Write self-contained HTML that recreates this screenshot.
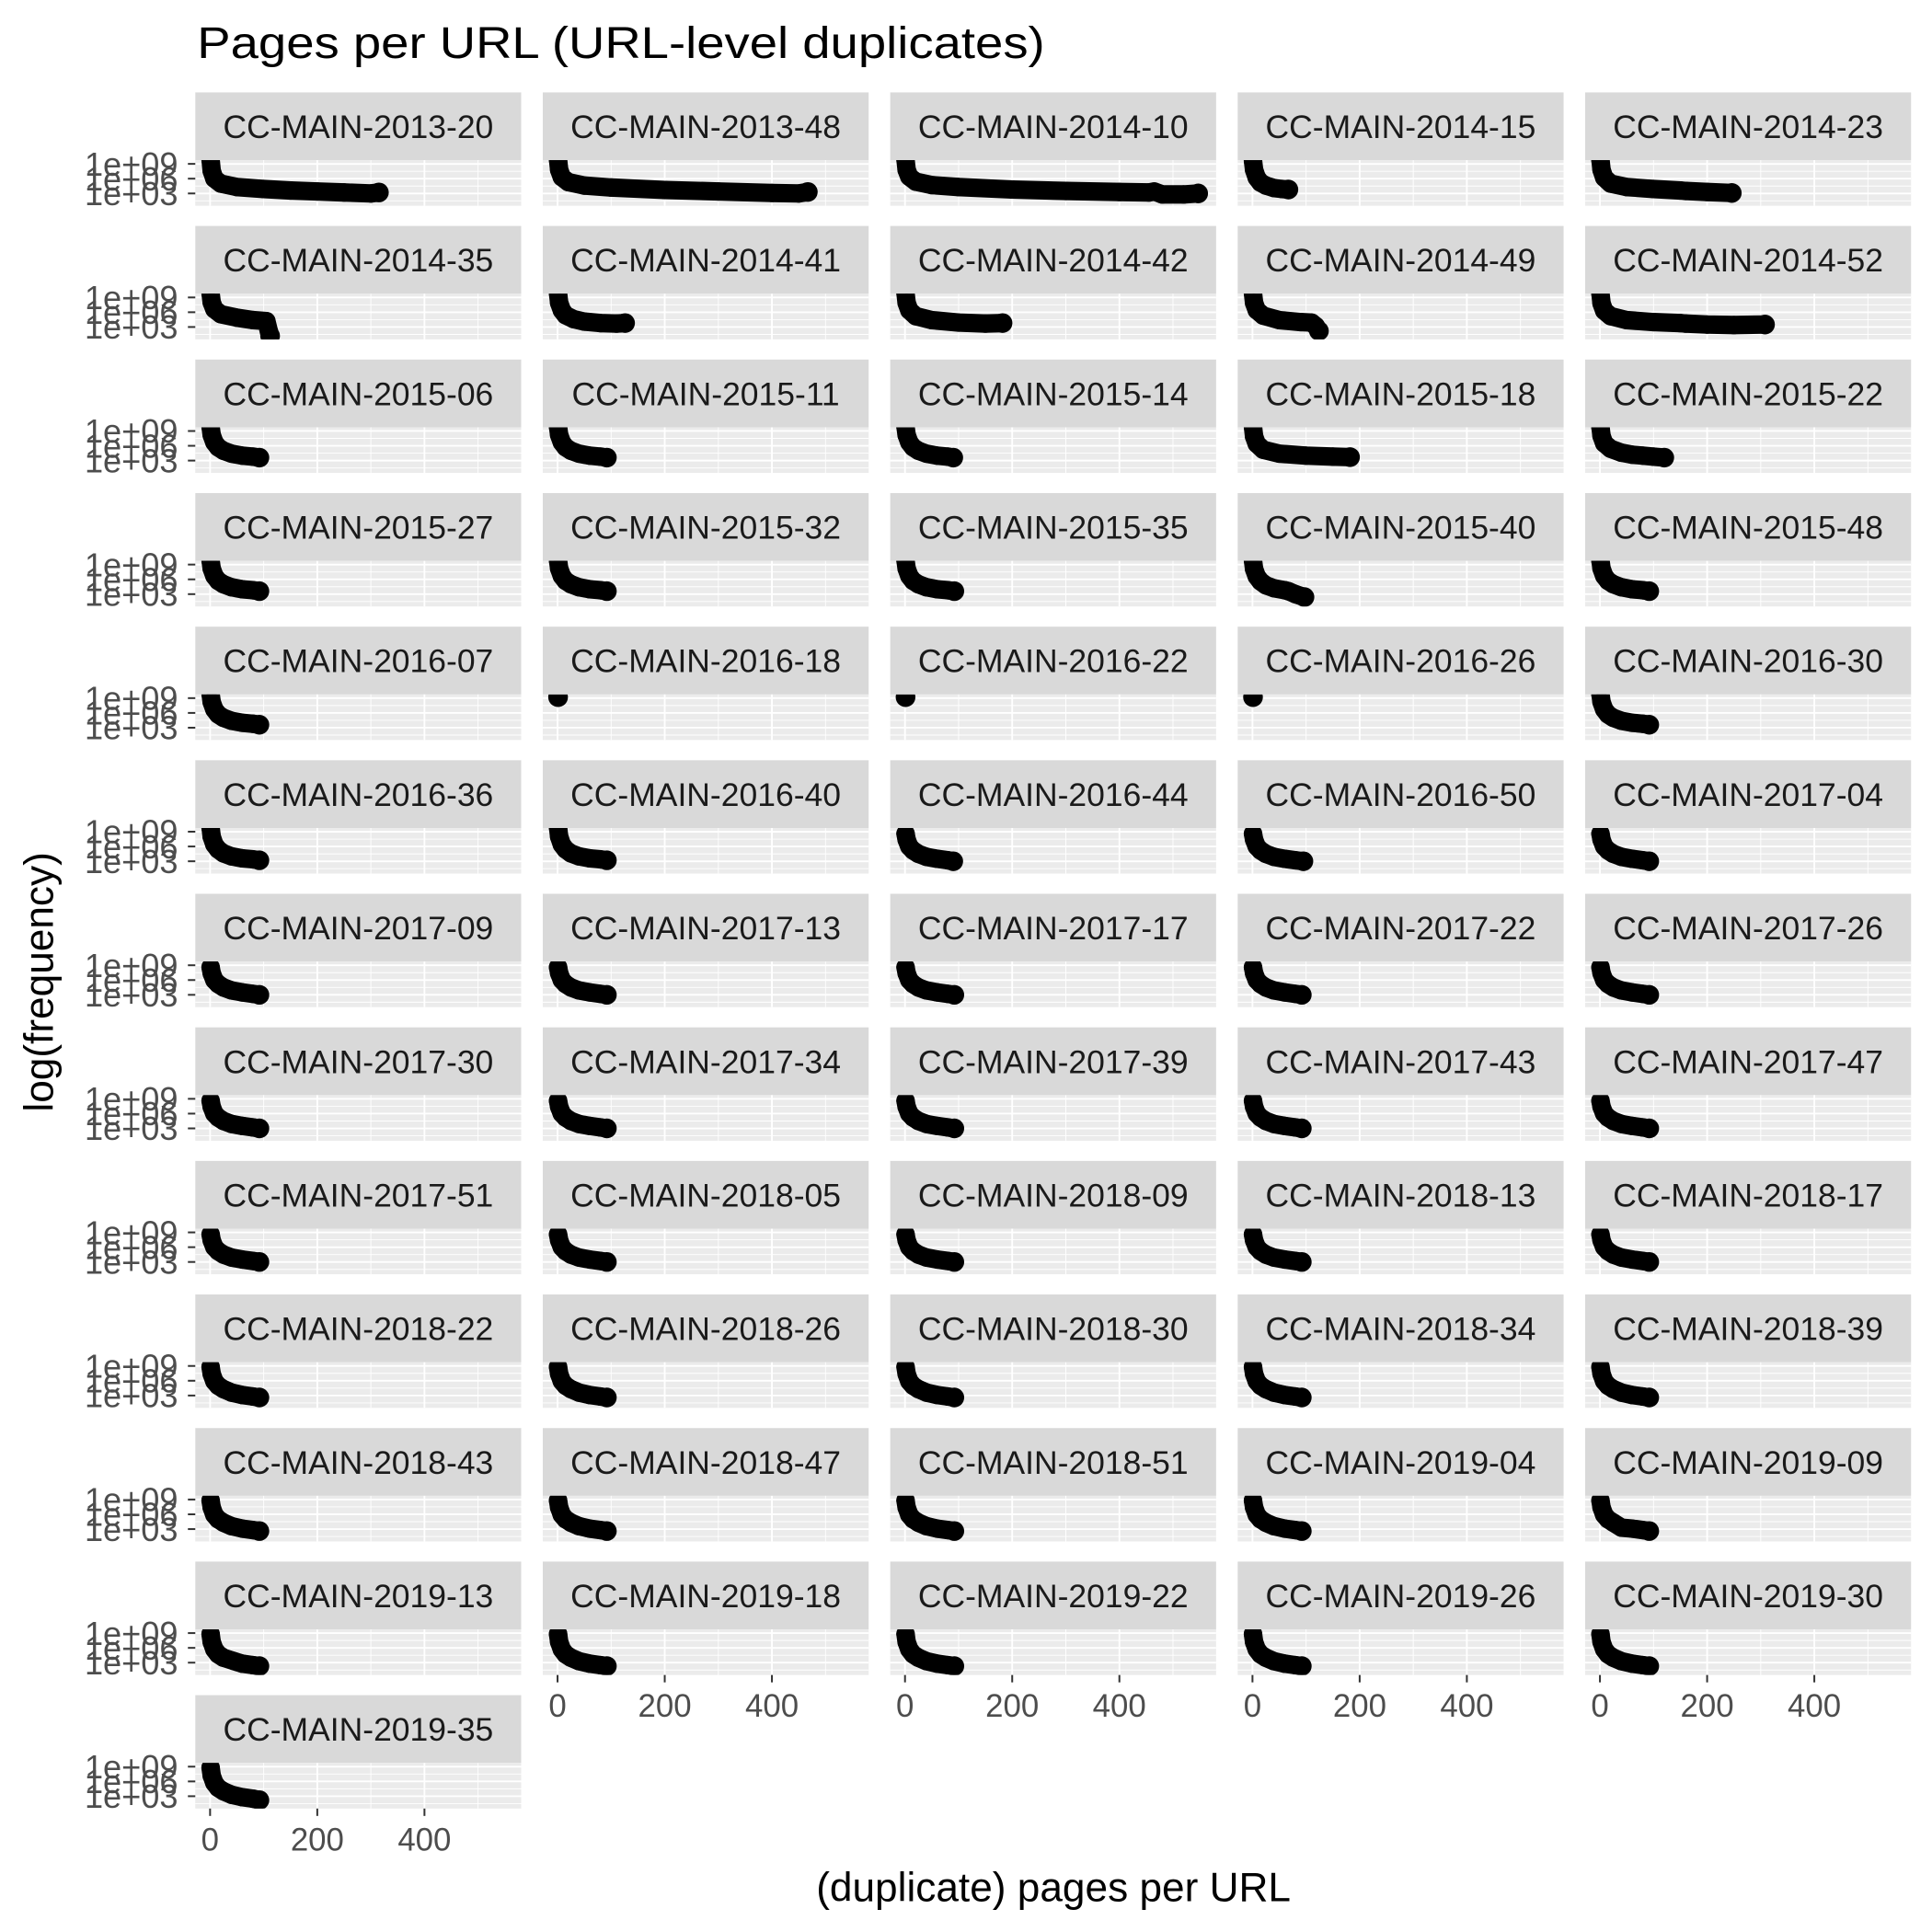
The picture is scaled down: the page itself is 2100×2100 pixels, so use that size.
<!DOCTYPE html>
<html><head><meta charset="utf-8"><style>
html,body{margin:0;padding:0;background:#fff;}
svg{display:block;}
text{font-family:"Liberation Sans",sans-serif;}
</style></head>
<body>
<svg id="chart" xmlns="http://www.w3.org/2000/svg" width="2100" height="2100" viewBox="0 0 1568 1568">
<rect x="0" y="0" width="1568" height="1568" fill="#fff"/>
<text x="160" y="47" font-size="36" fill="#000" textLength="688" lengthAdjust="spacingAndGlyphs">Pages per URL (URL-level duplicates)</text>
<text transform="translate(43,797) rotate(-90)" text-anchor="middle" font-size="33" fill="#000">log(frequency)</text>
<text x="855" y="1543" text-anchor="middle" font-size="33" fill="#000">(duplicate) pages per URL</text>
<g id="panels"></g>
</svg>
<script>
const panelNames = ["CC-MAIN-2013-20","CC-MAIN-2013-48","CC-MAIN-2014-10","CC-MAIN-2014-15","CC-MAIN-2014-23",
"CC-MAIN-2014-35","CC-MAIN-2014-41","CC-MAIN-2014-42","CC-MAIN-2014-49","CC-MAIN-2014-52",
"CC-MAIN-2015-06","CC-MAIN-2015-11","CC-MAIN-2015-14","CC-MAIN-2015-18","CC-MAIN-2015-22",
"CC-MAIN-2015-27","CC-MAIN-2015-32","CC-MAIN-2015-35","CC-MAIN-2015-40","CC-MAIN-2015-48",
"CC-MAIN-2016-07","CC-MAIN-2016-18","CC-MAIN-2016-22","CC-MAIN-2016-26","CC-MAIN-2016-30",
"CC-MAIN-2016-36","CC-MAIN-2016-40","CC-MAIN-2016-44","CC-MAIN-2016-50","CC-MAIN-2017-04",
"CC-MAIN-2017-09","CC-MAIN-2017-13","CC-MAIN-2017-17","CC-MAIN-2017-22","CC-MAIN-2017-26",
"CC-MAIN-2017-30","CC-MAIN-2017-34","CC-MAIN-2017-39","CC-MAIN-2017-43","CC-MAIN-2017-47",
"CC-MAIN-2017-51","CC-MAIN-2018-05","CC-MAIN-2018-09","CC-MAIN-2018-13","CC-MAIN-2018-17",
"CC-MAIN-2018-22","CC-MAIN-2018-26","CC-MAIN-2018-30","CC-MAIN-2018-34","CC-MAIN-2018-39",
"CC-MAIN-2018-43","CC-MAIN-2018-47","CC-MAIN-2018-51","CC-MAIN-2019-04","CC-MAIN-2019-09",
"CC-MAIN-2019-13","CC-MAIN-2019-18","CC-MAIN-2019-22","CC-MAIN-2019-26","CC-MAIN-2019-30",
"CC-MAIN-2019-35"];
const xTicks = [0,200,400];
const xTickLabels = ["0","200","400"];
const yTicks = [3,6,9];
const yTickLabels = ["1e+03","1e+06","1e+09"];
const pointsX = [
[1,3,8,20,50,100,150,200,250,300,315],
[1,3,8,20,50,100,200,300,400,450,467],
[1,3,8,20,50,100,200,300,400,455,465,480,520,547],
[1,3,8,15,25,40,55,67],
[1,3,8,20,50,100,150,160,200,246],
[1,3,8,20,50,80,105,110,112],
[1,3,8,15,30,50,80,110,126],
[1,3,8,20,50,100,150,182],
[1,3,8,20,50,90,110,118,124],
[1,3,8,20,50,100,150,160,200,250,308],
[1,3,8,15,25,40,60,80,92],
[1,3,8,15,25,40,60,80,92],
[1,3,8,15,25,40,60,80,90],
[1,3,8,20,50,100,150,182],
[1,3,8,20,40,60,80,100,120],
[1,3,8,15,25,40,60,80,92],
[1,3,8,15,25,40,60,80,92],
[1,3,8,15,25,40,60,80,92],
[1,3,8,15,25,40,60,67,80,97],
[1,3,8,15,25,40,60,80,92],
[1,3,8,15,25,40,60,80,92],
[1],[1],[1],
[1,3,8,15,25,40,60,80,92],
[1,3,8,15,25,40,60,80,92],
[1,3,8,15,25,40,60,80,92],
[1,3,8,15,25,40,60,80,90],
[1,3,8,15,25,40,60,80,95],
[1,3,8,15,25,40,60,80,92],
[1,3,8,15,25,40,60,80,92],
[1,3,8,15,25,40,60,80,92],
[1,3,8,15,25,40,60,80,92],
[1,3,8,15,25,40,60,80,92],
[1,3,8,15,25,40,60,80,92],
[1,3,8,15,25,40,60,80,92],
[1,3,8,15,25,40,60,80,92],
[1,3,8,15,25,40,60,80,92],
[1,3,8,15,25,40,60,80,92],
[1,3,8,15,25,40,60,80,92],
[1,3,8,15,25,40,60,80,92],
[1,3,8,15,25,40,60,80,92],
[1,3,8,15,25,40,60,80,92],
[1,3,8,15,25,40,60,80,92],
[1,3,8,15,25,40,60,80,92],
[1,3,8,15,25,40,60,80,92],
[1,3,8,15,25,40,60,80,92],
[1,3,8,15,25,40,60,80,92],
[1,3,8,15,25,40,60,80,92],
[1,3,8,15,25,40,60,80,92],
[1,3,8,15,25,40,60,80,92],
[1,3,8,15,25,40,60,80,92],
[1,3,8,15,25,40,60,80,92],
[1,3,8,15,25,40,60,80,92],
[1,3,8,15,25,40,60,80,92],
[1,3,8,15,25,45,60,80,92],
[1,3,8,15,25,40,60,80,92],
[1,3,8,15,25,40,60,80,92],
[1,3,8,15,25,40,60,80,92],
[1,3,8,15,25,40,60,80,92],
[1,3,8,15,25,40,60,80,92],
[1,3,8,15,25,40,60,80,92]
];
const pointsLogY = [
[9.8,7.6,6.0,5.0,4.3,3.9,3.6,3.4,3.2,3.0,3.2],
[9.8,7.8,6.3,5.3,4.6,4.2,3.7,3.4,3.1,3.0,3.3],
[9.8,7.8,6.4,5.4,4.7,4.3,3.8,3.5,3.3,3.2,3.4,2.8,2.8,3.0],
[9.6,7.8,6.2,5.2,4.6,4.1,3.9,3.8],
[9.8,7.8,6.2,5.0,4.3,3.9,3.6,3.5,3.3,3.1],
[9.8,8.0,6.6,5.6,4.9,4.4,4.2,2.0,1.2],
[9.8,7.9,6.4,5.4,4.6,4.1,3.8,3.7,3.8],
[9.8,7.9,6.4,5.2,4.4,3.9,3.7,3.8],
[9.8,7.9,6.4,5.3,4.4,4.0,3.9,3.2,2.2],
[9.8,7.8,6.3,5.2,4.4,4.0,3.8,3.7,3.5,3.4,3.5],
[9.8,8.2,6.7,5.7,5.0,4.4,4.0,3.8,3.6],
[9.8,8.2,6.7,5.7,5.0,4.4,4.0,3.8,3.6],
[9.8,8.2,6.7,5.7,5.0,4.4,4.0,3.8,3.6],
[9.8,7.9,6.4,5.2,4.4,4.0,3.8,3.7],
[9.8,8.0,6.5,5.4,4.6,4.2,4.0,3.8,3.6],
[9.8,8.2,6.7,5.7,5.0,4.4,4.0,3.8,3.6],
[9.8,8.2,6.7,5.7,5.0,4.4,4.0,3.8,3.6],
[9.8,8.2,6.7,5.7,5.0,4.4,4.0,3.8,3.6],
[9.8,8.1,6.6,5.6,4.8,4.2,3.8,3.6,3.0,2.4],
[9.8,8.2,6.7,5.7,5.0,4.4,4.0,3.8,3.6],
[9.8,8.2,6.7,5.7,5.0,4.4,4.0,3.8,3.6],
[9.2],[9.2],[9.2],
[9.8,8.2,6.7,5.7,5.0,4.4,4.0,3.8,3.6],
[9.8,8.0,6.4,5.4,4.6,4.0,3.6,3.4,3.2],
[9.8,8.0,6.4,5.4,4.6,4.0,3.6,3.4,3.2],
[8.6,7.4,6.0,5.2,4.5,3.9,3.5,3.2,3.0],
[8.6,7.4,6.0,5.2,4.5,3.9,3.5,3.2,3.0],
[8.6,7.4,6.0,5.2,4.5,3.9,3.5,3.2,3.0],
[8.6,7.4,6.0,5.2,4.5,3.9,3.5,3.2,3.0],
[8.6,7.4,6.0,5.2,4.5,3.9,3.5,3.2,3.0],
[8.6,7.4,6.0,5.2,4.5,3.9,3.5,3.2,3.0],
[8.6,7.4,6.0,5.2,4.5,3.9,3.5,3.2,3.0],
[8.6,7.4,6.0,5.2,4.5,3.9,3.5,3.2,3.0],
[8.6,7.4,6.0,5.2,4.5,3.9,3.5,3.2,3.0],
[8.6,7.4,6.0,5.2,4.5,3.9,3.5,3.2,3.0],
[8.6,7.4,6.0,5.2,4.5,3.9,3.5,3.2,3.0],
[8.6,7.4,6.0,5.2,4.5,3.9,3.5,3.2,3.0],
[8.6,7.4,6.0,5.2,4.5,3.9,3.5,3.2,3.0],
[8.6,7.4,6.0,5.2,4.5,3.9,3.5,3.2,3.0],
[8.6,7.4,6.0,5.2,4.5,3.9,3.5,3.2,3.0],
[8.6,7.4,6.0,5.2,4.5,3.9,3.5,3.2,3.0],
[8.6,7.4,6.0,5.2,4.5,3.9,3.5,3.2,3.0],
[8.6,7.4,6.0,5.2,4.5,3.9,3.5,3.2,3.0],
[8.8,7.4,5.9,5.0,4.3,3.6,3.1,2.8,2.6],
[8.8,7.4,5.9,5.0,4.3,3.6,3.1,2.8,2.6],
[8.8,7.4,5.9,5.0,4.3,3.6,3.1,2.8,2.6],
[8.8,7.4,5.9,5.0,4.3,3.6,3.1,2.8,2.6],
[8.8,7.4,5.9,5.0,4.3,3.6,3.1,2.8,2.6],
[8.8,7.4,5.9,5.0,4.3,3.6,3.1,2.8,2.6],
[8.8,7.4,5.9,5.0,4.3,3.6,3.1,2.8,2.6],
[8.8,7.4,5.9,5.0,4.3,3.6,3.1,2.8,2.6],
[8.8,7.4,5.9,5.0,4.3,3.6,3.1,2.8,2.6],
[8.8,7.4,5.9,5.0,4.3,3.3,3.1,2.8,2.6],
[8.8,7.2,5.7,4.7,4.0,3.3,2.8,2.5,2.3],
[8.8,7.2,5.7,4.7,4.0,3.3,2.8,2.5,2.3],
[8.8,7.2,5.7,4.7,4.0,3.3,2.8,2.5,2.3],
[8.8,7.2,5.7,4.7,4.0,3.3,2.8,2.5,2.3],
[8.8,7.2,5.7,4.7,4.0,3.3,2.8,2.5,2.3],
[8.8,7.2,5.7,4.7,4.0,3.3,2.8,2.5,2.2]
];

const NS = "http://www.w3.org/2000/svg";
const root = document.getElementById("panels");
const COLS = 5, colPitch = 282, rowPitch = 108.4;
const left0 = 158.5, strip0 = 75, stripH = 55, panW = 264.5, panH = 37;
const xMin = -27.6, xMax = 580.5, yMin = 0.5, yMax = 9.75;
function mk(tag, attrs, parent) {
  const e = document.createElementNS(NS, tag);
  for (const k in attrs) e.setAttribute(k, attrs[k]);
  parent.appendChild(e);
  return e;
}
const defs = mk("defs", {}, root);
panelNames.forEach((name, i) => {
  const col = i % COLS, row = Math.floor(i / COLS);
  const L = left0 + col * colPitch;
  const sT = strip0 + row * rowPitch;
  const T = sT + stripH;
  const sx = v => L + (v - xMin) / (xMax - xMin) * panW;
  const sy = v => T + (yMax - v) / (yMax - yMin) * panH;
  const g = mk("g", {}, root);
  
  
  const strip = mk("rect", {x: L, y: sT, width: panW, height: stripH, fill: "#D9D9D9"}, g);
  
  
  const st = mk("text", {x: L + panW / 2, y: sT + 37, "text-anchor": "middle", "font-size": "26.5", fill: "#1A1A1A"}, g);
  
  
  st.textContent = name;
  const bg = mk("rect", {x: L, y: T, width: panW, height: panH, fill: "#EBEBEB"}, g);
  
  
  [1.5, 4.5, 7.5].forEach(v => mk("line", {x1: L, x2: L + panW, y1: sy(v), y2: sy(v), stroke: "#fff", "stroke-width": 0.7}, g));
  [100, 300, 500].forEach(v => mk("line", {x1: sx(v), x2: sx(v), y1: T, y2: T + panH, stroke: "#fff", "stroke-width": 0.7}, g));
  yTicks.forEach(v => mk("line", {x1: L, x2: L + panW, y1: sy(v), y2: sy(v), stroke: "#fff", "stroke-width": 1.4}, g));
  xTicks.forEach(v => mk("line", {x1: sx(v), x2: sx(v), y1: T, y2: T + panH, stroke: "#fff", "stroke-width": 1.4}, g));
  const cp = mk("clipPath", {id: "cp" + i}, defs);
  mk("rect", {x: L, y: T, width: panW, height: panH}, cp);
  const dg = mk("g", {"clip-path": "url(#cp" + i + ")"}, g);
  
  
  const xs = pointsX[i], ys = pointsLogY[i];
  if (xs.length > 1) {
    const pts = xs.map((x, k) => sx(x) + "," + sy(ys[k])).join(" ");
    const pl = mk("polyline", {points: pts, fill: "none", stroke: "#000", "stroke-width": 15, "stroke-linejoin": "round", "stroke-linecap": "round"}, dg);
    
    
  }
  xs.forEach((x, k) => {
    const c = mk("circle", {cx: sx(x), cy: sy(ys[k]), r: (k === xs.length - 1 ? 8 : 7.5), fill: "#000"}, dg);
    
    
  });
  if (col === 0) {
    yTicks.forEach((v, k) => {
      mk("line", {x1: L - 6, x2: L, y1: sy(v), y2: sy(v), stroke: "#333", "stroke-width": 1.5}, g);
      const t = mk("text", {x: L - 14, y: sy(v) + 9.5, "text-anchor": "end", "font-size": "27", fill: "#4D4D4D"}, g);
      
      
      t.textContent = yTickLabels[k];
    });
  }
  if (i + COLS >= panelNames.length) {
    xTicks.forEach((v, k) => {
      mk("line", {x1: sx(v), x2: sx(v), y1: T + panH, y2: T + panH + 6, stroke: "#333", "stroke-width": 1.5}, g);
      const t = mk("text", {x: sx(v), y: T + panH + 34, "text-anchor": "middle", "font-size": "26", fill: "#4D4D4D"}, g);
      
      
      t.textContent = xTickLabels[k];
    });
  }
});
</script>
</body></html>
